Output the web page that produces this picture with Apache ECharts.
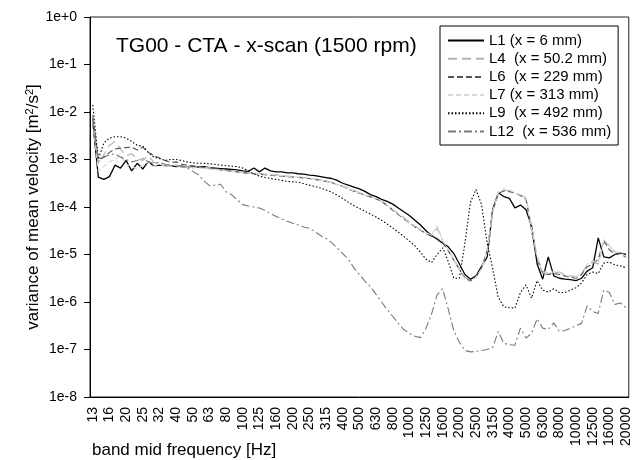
<!DOCTYPE html>
<html>
<head>
<meta charset="utf-8">
<script src="https://cdn.jsdelivr.net/npm/echarts@6/dist/echarts.min.js"></script>
<style>
html, body { margin: 0; padding: 0; background: #fff; }
#chart { width: 633px; height: 460px; }
</style>
</head>
<body>
<div id="chart"></div>
<script>
// Third-octave band labels; the data has 3 points per labelled band
const bandLabels = ['13', '16', '20', '25', '32', '40', '50', '63', '80', '100', '125', '160', '200', '250', '315', '400', '500', '630', '800', '1000', '1250', '1600', '2000', '2500', '3150', '4000', '5000', '6300', '8000', '10000', '12500', '16000', '20000'];

// log10 of the variance [m^2/s^2]
const l1Log = [
    -2.20, -3.37, -3.42, -3.36, -3.12, -3.18, -3.02, -3.24, -3.08, -3.20, -3.04, -3.14,
    -3.12, -3.13, -3.13, -3.15, -3.14, -3.16, -3.14, -3.16, -3.15, -3.17, -3.18, -3.19,
    -3.20, -3.21, -3.22, -3.24, -3.25, -3.18, -3.26, -3.18, -3.24, -3.26, -3.26, -3.28,
    -3.28, -3.30, -3.31, -3.33, -3.34, -3.36, -3.38, -3.40, -3.44, -3.50, -3.54, -3.58,
    -3.62, -3.67, -3.74, -3.78, -3.84, -3.88, -3.94, -4.02, -4.10, -4.18, -4.28, -4.38,
    -4.50, -4.60, -4.68, -4.76, -4.84, -4.98, -5.20, -5.42, -5.52, -5.45, -5.25, -5.05,
    -4.05, -3.70, -3.78, -3.82, -4.02, -3.96, -4.06, -4.40, -5.20, -5.52, -5.05, -5.45,
    -5.50, -5.52, -5.53, -5.55, -5.50, -5.35, -5.28, -4.65, -5.05, -5.07, -5.00, -4.97,
    -5.00
];
const l4Log = [
    -2.05, -3.10, -2.90, -2.70, -2.62, -2.78, -2.92, -2.88, -2.98, -3.02, -2.92, -3.06,
    -3.10, -3.14, -3.10, -3.12, -3.16, -3.13, -3.17, -3.15, -3.18, -3.16, -3.20, -3.21,
    -3.22, -3.24, -3.25, -3.27, -3.28, -3.30, -3.29, -3.31, -3.33, -3.32, -3.34, -3.35,
    -3.36, -3.37, -3.38, -3.40, -3.41, -3.43, -3.45, -3.48, -3.52, -3.56, -3.60, -3.65,
    -3.70, -3.74, -3.78, -3.82, -3.88, -3.96, -4.05, -4.14, -4.22, -4.31, -4.40, -4.47,
    -4.54, -4.60, -4.44, -4.72, -4.90, -5.10, -5.30, -5.48, -5.55, -5.48, -5.30, -4.95,
    -4.10, -3.70, -3.64, -3.66, -3.72, -3.75, -3.80, -4.40, -5.05, -5.35, -5.40, -5.38,
    -5.37, -5.42, -5.45, -5.47, -5.40, -5.22, -5.16, -5.20, -4.75, -4.80, -4.95, -4.96,
    -5.05
];
const l6Log = [
    -2.10, -3.00, -2.95, -2.85, -2.78, -2.76, -2.75, -2.74, -2.80, -2.74, -2.85, -2.92,
    -2.97, -3.02, -3.06, -3.05, -3.10, -3.12, -3.14, -3.16, -3.17, -3.19, -3.20, -3.22,
    -3.23, -3.25, -3.26, -3.28, -3.29, -3.30, -3.31, -3.32, -3.33, -3.34, -3.35, -3.36,
    -3.37, -3.38, -3.39, -3.40, -3.42, -3.44, -3.46, -3.49, -3.53, -3.57, -3.62, -3.67,
    -3.71, -3.75, -3.79, -3.83, -3.88, -3.97, -4.07, -4.16, -4.25, -4.33, -4.42, -4.49,
    -4.56, -4.62, -4.66, -4.76, -4.92, -5.12, -5.32, -5.50, -5.56, -5.46, -5.28, -4.92,
    -4.08, -3.72, -3.66, -3.68, -3.70, -3.76, -3.84, -4.50, -5.10, -5.40, -5.42, -5.40,
    -5.42, -5.45, -5.48, -5.50, -5.42, -5.26, -5.20, -5.10, -4.70, -4.90, -5.00, -4.98,
    -5.06
];
const l7Log = [
    -2.20, -3.25, -3.15, -3.05, -3.00, -2.90, -3.10, -3.15, -3.20, -3.12, -3.05, -3.15,
    -3.10, -3.12, -3.14, -3.13, -3.15, -3.16, -3.18, -3.17, -3.19, -3.20, -3.21, -3.22,
    -3.24, -3.25, -3.26, -3.28, -3.28, -3.29, -3.30, -3.31, -3.32, -3.33, -3.34, -3.35,
    -3.36, -3.37, -3.39, -3.40, -3.42, -3.44, -3.46, -3.49, -3.53, -3.57, -3.61, -3.66,
    -3.70, -3.74, -3.78, -3.82, -3.87, -3.96, -4.05, -4.14, -4.23, -4.32, -4.41, -4.48,
    -4.55, -4.58, -4.40, -4.70, -4.90, -5.12, -5.32, -5.52, -5.58, -5.48, -5.30, -4.95,
    -4.10, -3.68, -3.62, -3.64, -3.70, -3.74, -3.82, -4.45, -5.05, -5.38, -5.40, -5.36,
    -5.38, -5.44, -5.46, -5.48, -5.38, -5.20, -5.14, -5.18, -4.68, -4.82, -4.95, -4.96,
    -5.04
];
const l9Log = [
    -1.85, -3.00, -2.65, -2.55, -2.52, -2.52, -2.55, -2.62, -2.70, -2.72, -2.85, -2.95,
    -2.98, -3.02, -3.00, -3.00, -3.02, -3.05, -3.07, -3.08, -3.08, -3.09, -3.10, -3.12,
    -3.13, -3.14, -3.15, -3.18, -3.24, -3.30, -3.35, -3.38, -3.40, -3.42, -3.44, -3.46,
    -3.47, -3.48, -3.51, -3.54, -3.57, -3.60, -3.64, -3.69, -3.75, -3.82, -3.90, -3.97,
    -4.03, -4.09, -4.15, -4.21, -4.28, -4.36, -4.44, -4.53, -4.62, -4.72, -4.82, -4.95,
    -5.10, -5.17, -5.00, -4.86, -5.15, -5.50, -5.50, -4.76, -3.90, -3.63, -3.95, -4.76,
    -5.30, -5.90, -6.10, -6.12, -6.13, -5.80, -5.64, -5.92, -5.55, -5.75, -5.79, -5.72,
    -5.80, -5.80, -5.75, -5.70, -5.60, -5.42, -5.37, -5.40, -5.18, -5.16, -5.22, -5.24,
    -5.28
];
const l12Log = [
    -2.15, -3.05, -2.95, -2.90, -2.88, -2.95, -3.00, -3.05, -3.02, -2.98, -3.05, -3.08,
    -3.06, -3.10, -3.12, -3.12, -3.15, -3.18, -3.25, -3.32, -3.45, -3.55, -3.54, -3.52,
    -3.68, -3.74, -3.85, -3.95, -3.98, -4.00, -4.02, -4.07, -4.14, -4.20, -4.25, -4.30,
    -4.34, -4.38, -4.42, -4.45, -4.52, -4.60, -4.66, -4.75, -4.86, -4.98, -5.10, -5.28,
    -5.42, -5.56, -5.68, -5.84, -6.00, -6.16, -6.30, -6.45, -6.58, -6.66, -6.72, -6.75,
    -6.55, -6.25, -5.85, -5.72, -6.15, -6.60, -6.85, -7.02, -7.05, -7.04, -7.02, -7.00,
    -6.96, -6.62, -6.87, -6.90, -6.91, -6.55, -6.76, -6.66, -6.35, -6.55, -6.58, -6.44,
    -6.62, -6.60, -6.55, -6.50, -6.45, -6.08, -6.20, -6.24, -5.75, -5.80, -6.05, -6.02,
    -6.12
];

const seriesNames = ['L1 (x = 6 mm)', 'L4  (x = 50.2 mm)', 'L6  (x = 229 mm)', 'L7 (x = 313 mm)', 'L9  (x = 492 mm)', 'L12  (x = 536 mm)'];
const seriesLogs = [l1Log, l4Log, l6Log, l7Log, l9Log, l12Log];
const seriesStyles = [
    { color: '#000000', width: 1.3, type: 'solid' },
    { color: '#b4b4b4', width: 1.2, type: [9, 5] },
    { color: '#555555', width: 1.1, type: [6, 3] },
    { color: '#d8d8d8', width: 1.2, type: [5, 3] },
    { color: '#000000', width: 1.1, type: [1.5, 2] },
    { color: '#7a7a7a', width: 1.1, type: [8, 3, 2, 3] }
];

// category list: a label every third point, blanks in between
const categories = [];
bandLabels.forEach((lab, k) => {
    categories.push(lab);
    if (k < bandLabels.length - 1) categories.push('', '');
});

const font = 'Liberation Sans, Arial, sans-serif';
const chart = echarts.init(document.getElementById('chart'), null, { renderer: 'canvas' });

chart.setOption({
    animation: false,
    backgroundColor: '#fff',
    textStyle: { fontFamily: font, color: '#000' },
    title: {
        text: 'TG00 - CTA - x-scan (1500 rpm)',
        left: 111, top: 31,
        textStyle: { fontFamily: font, fontSize: 21, fontWeight: 'normal', color: '#000' }
    },
    legend: {
        orient: 'vertical',
        left: 440, top: 26,
        padding: [7, 7, 6, 7],
        itemWidth: 36, itemHeight: 12, itemGap: 3.2,
        itemStyle: { opacity: 0, borderWidth: 0 },
        borderColor: '#000', borderWidth: 1,
        textStyle: { fontFamily: font, fontSize: 15, color: '#000' },
        data: seriesNames
    },
    grid: { left: 90, right: 4, top: 17, bottom: 63, show: true, borderColor: '#222', borderWidth: 1 },
    xAxis: {
        type: 'category',
        data: categories,
        boundaryGap: true,
        axisLine: { lineStyle: { color: '#000', width: 1 } },
        axisTick: { interval: 0, length: 4, lineStyle: { color: '#000' } },
        axisLabel: { interval: 0, rotate: 90, margin: 10, fontSize: 14, color: '#000', fontFamily: font },
        splitLine: { show: false }
    },
    yAxis: {
        type: 'log',
        logBase: 10,
        min: 1e-8, max: 1,
        splitNumber: 8,
        name: 'variance of mean velocity [m{sup|2}/s{sup|2}]',
        nameLocation: 'middle',
        nameGap: 48,
        nameMoveOverlap: false,
        nameTextStyle: {
            fontFamily: font, fontSize: 17, color: '#000',
            rich: { sup: { fontSize: 11, verticalAlign: 'top', padding: [0, 0, 7, 0] } }
        },
        axisLine: { show: true, lineStyle: { color: '#000', width: 1 } },
        axisTick: { show: true, length: 6, lineStyle: { color: '#000' } },
        axisLabel: {
            margin: 13, fontSize: 14, color: '#000', fontFamily: font,
            formatter: v => {
                const e = Math.round(Math.log10(v));
                return '1e' + (e >= 0 ? '+' : '') + e;
            }
        },
        splitLine: { show: false },
        minorTick: { show: false }
    },
    graphic: [{
        type: 'text',
        left: 92, top: 442,
        style: { text: 'band mid frequency [Hz]', fontFamily: font, fontSize: 17, fill: '#000' }
    }],
    series: seriesNames.map((name, s) => ({
        name: name,
        type: 'line',
        symbol: 'none',
        data: seriesLogs[s].map(e => Math.pow(10, e)),
        lineStyle: seriesStyles[s],
        itemStyle: { color: seriesStyles[s].color }
    }))
});
</script>
</body>
</html>
